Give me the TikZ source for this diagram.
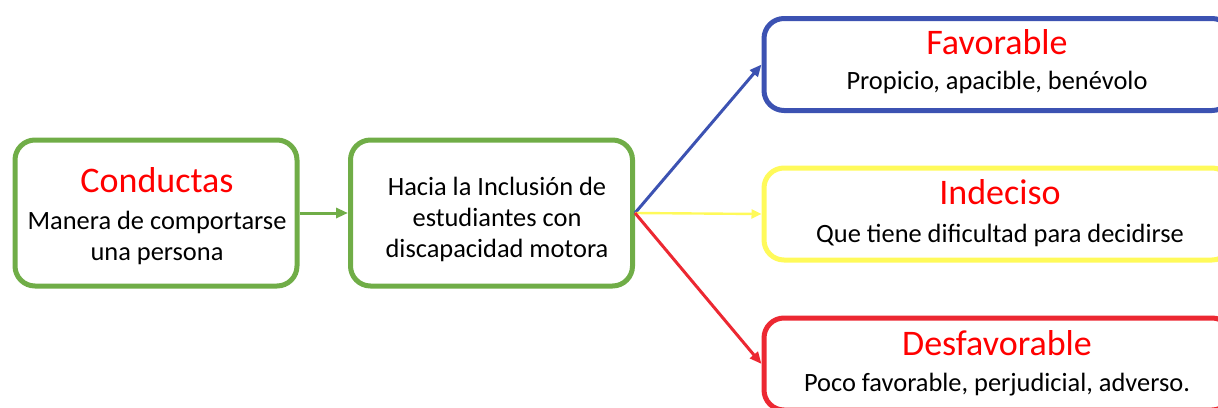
\documentclass[tikz,border=0pt]{standalone}
\usepackage{fontspec}
\setmainfont{Carlito}
\usetikzlibrary{arrows.meta}
\definecolor{verde}{RGB}{112,173,71}
\definecolor{azul}{RGB}{60,82,178}
\definecolor{amarillo}{RGB}{255,250,90}
\definecolor{rojo}{RGB}{236,40,50}

\begin{document}
\begin{tikzpicture}[x=0.5pt, y=-0.5pt, >={Triangle[length=6pt, width=5pt]},
    box/.style={draw, rounded corners=10pt, line width=2.5pt, inner sep=0pt},
    smallbox/.style={box, minimum width=141pt, minimum height=73pt},
    bigbox/.style={box, minimum width=234pt, minimum height=46pt},
    title/.style={text=red, font=\fontsize{18}{20}\selectfont},
    body/.style={align=center, font=\fontsize{13.2}{15.5}\selectfont},
    link/.style={->, line width=1.5pt}]
    \useasboundingbox (0,0) rectangle (1218,407);
    \clip (0,0) rectangle (1218,407);

    % cajas
    \node[smallbox, draw=verde] (conductas) at (156,213) {};
    \node[smallbox, draw=verde] (inclusion) at (491.5,213) {};
    \node[bigbox, draw=azul] (favorable) at (998,64.5) {};
    \node[bigbox, draw=amarillo] (indeciso) at (998,214) {};
    \node[bigbox, draw=rojo] (desfavorable) at (998,364) {};

    % textos
    \node[title] (tconductas) at (157,180) {Conductas};
    \node[body] (dconductas) at (157,238) {Manera de comportarse\\una persona};
    \node[body] (dinclusion) at (497,219) {Hacia la Inclusión de\\estudiantes con\\discapacidad motora};
    \node[title] (tfavorable) at (997,42) {Favorable};
    \node[body] (dfavorable) at (997,82) {Propicio, apacible, benévolo};
    \node[title] (tindeciso) at (1000,192) {Indeciso};
    \node[body] (dindeciso) at (1000,235) {Que tiene dificultad para decidirse};
    \node[title] (tdesfavorable) at (997,343) {Desfavorable};
    \node[body] (ddesfavorable) at (997,385) {Poco favorable, perjudicial, adverso.};

    % flechas
    \draw[link, verde] (conductas) -- (inclusion);
    \draw[link, azul] (inclusion.east) -- (favorable.west);
    \draw[->, amarillo, line width=1.2pt, >={Triangle[length=5pt, width=4.5pt]}] (inclusion.east) -- (indeciso.west);
    \draw[link, rojo] (inclusion.east) -- (desfavorable.west);
\end{tikzpicture}
\end{document}
